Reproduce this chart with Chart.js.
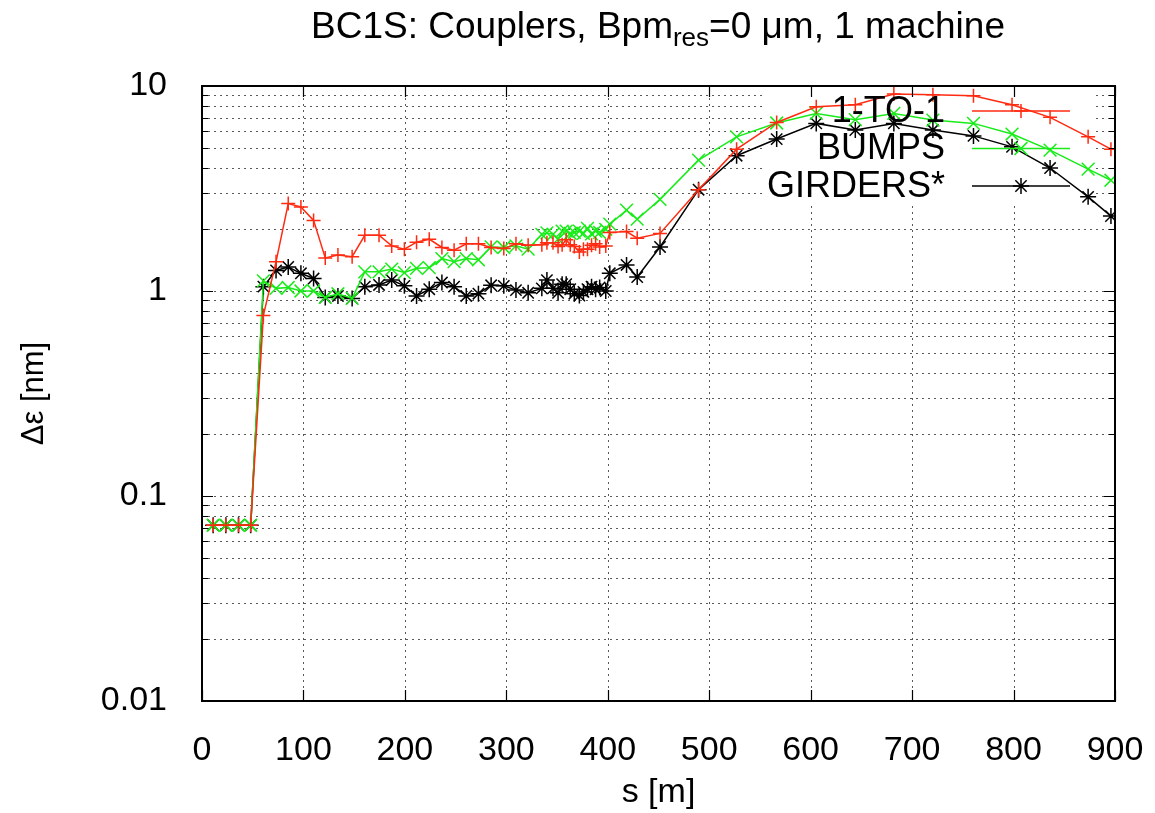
<!DOCTYPE html>
<html>
<head>
<meta charset="utf-8">
<script src="https://cdn.jsdelivr.net/npm/chart.js@4.4.1/dist/chart.umd.min.js"></script>
<style>
  html, body { margin: 0; padding: 0; background: #fff; }
  canvas { display: block; }
</style>
</head>
<body>
<canvas id="emitChart" width="1155" height="813"></canvas>
<script>
// position along the linac [m]
const s = [11, 23.5, 36, 48,
  60.5, 73, 85, 97.5, 110, 121.5, 134, 148, 160.5, 174.5, 187, 199.5, 211.5, 224, 236.5, 248.5,
  260.5, 272.5, 285, 297.5, 309.5, 321.5,
  335, 340, 346, 351, 355, 359, 363, 367, 372, 376, 380, 384, 388, 392, 398,
  402, 418.5, 429, 451.5, 489.5, 527, 566.5, 605.5, 644, 682, 720.5, 760.5, 798.5, 836, 873.5, 896];

// emittance growth [nm]
const oneToOne = [0.072, 0.072, 0.072, 0.072,
  0.76, 1.39, 2.67, 2.57, 2.21, 1.45, 1.50, 1.47, 1.87, 1.87, 1.66, 1.60, 1.73, 1.79, 1.63, 1.58,
  1.70, 1.70, 1.63, 1.61, 1.70, 1.67,
  1.68, 1.72, 1.72, 1.65, 1.68, 1.78, 1.68, 1.65, 1.55, 1.60, 1.60, 1.67, 1.70, 1.64, 1.66,
  1.93, 1.95, 1.81, 1.91, 3.12, 4.92, 6.64, 7.92, 8.1, 9.14, 9.07, 8.96, 8.1, 7.03, 5.65, 4.92];

const bumps = [0.072, 0.072, 0.072, 0.072,
  1.12, 1.03, 1.04, 1.0, 1.0, 0.93, 0.97, 0.92, 1.24, 1.24, 1.28, 1.23, 1.29, 1.30, 1.44, 1.39,
  1.44, 1.42, 1.64, 1.63, 1.66, 1.60,
  1.89, 1.92, 1.89, 1.79, 1.96, 1.96, 1.91, 1.93, 1.96, 1.91, 2.02, 1.90, 1.96, 1.93, 2.0,
  2.12, 2.48, 2.24, 2.8, 4.35, 5.65, 6.6, 7.35, 6.85, 7.35, 6.82, 6.57, 5.83, 4.87, 3.93, 3.47];

const girders = [0.072, 0.072, 0.072, 0.072,
  1.05, 1.26, 1.31, 1.22, 1.15, 0.93, 0.946, 0.92, 1.05, 1.07, 1.13, 1.06, 0.946, 1.02, 1.10, 1.05,
  0.946, 0.97, 1.066, 1.06, 1.01, 0.98,
  1.03, 1.13, 1.03, 0.98, 1.08, 1.08, 1.02, 0.97, 0.95, 0.99, 1.02, 1.05, 1.02, 1.04, 1.0,
  1.22, 1.34, 1.17, 1.64, 3.12, 4.57, 5.51, 6.57, 6.1, 6.57, 6.1, 5.71, 5.05, 3.98, 2.88, 2.32];

const seriesNames = ['1-TO-1', 'BUMPS', 'GIRDERS*'];

// y ticks: decades + minor 2..9
const yMajor = [0.01, 0.1, 1, 10];
const yTicks = [];
[0.01, 0.1, 1].forEach(d => { for (let k = 1; k < 10; k++) yTicks.push(+(d * k).toPrecision(3)); });
yTicks.push(10);

const FONT = "'Liberation Sans', Arial, Helvetica, sans-serif";
const KEY_BOX = { x0: 765, x1: 1093, y0: 86, y1: 205 };

const pts = vals => s.map((x, i) => ({ x: x, y: vals[i] }));

// dotted grid (hidden behind the key), frame, ticks, key and title
const gnuPlugin = {
  id: 'gnuStyle',
  beforeDatasetsDraw(chart) {
    const { ctx, chartArea: a, scales } = chart;
    ctx.save();
    ctx.beginPath();
    ctx.rect(a.left, a.top, a.right - a.left, a.bottom - a.top);
    ctx.rect(KEY_BOX.x1, KEY_BOX.y0, KEY_BOX.x0 - KEY_BOX.x1, KEY_BOX.y1 - KEY_BOX.y0);
    ctx.clip('evenodd');
    ctx.strokeStyle = 'rgba(0,0,0,0.65)';
    ctx.lineWidth = 1;
    ctx.setLineDash([2, 4]);
    scales.y.ticks.forEach(t => {
      const y = Math.round(scales.y.getPixelForValue(t.value)) + 0.5;
      if (y <= a.top + 1 || y >= a.bottom - 1) return;
      ctx.beginPath(); ctx.moveTo(a.left, y); ctx.lineTo(a.right, y); ctx.stroke();
    });
    scales.x.ticks.forEach(t => {
      const x = Math.round(scales.x.getPixelForValue(t.value)) + 0.5;
      if (x <= a.left + 1 || x >= a.right - 1) return;
      ctx.beginPath(); ctx.moveTo(x, a.top); ctx.lineTo(x, a.bottom); ctx.stroke();
    });
    ctx.restore();
  },
  afterDatasetsDraw(chart) {
    const { ctx, chartArea: a, scales } = chart;
    ctx.save();
    ctx.strokeStyle = '#000';
    ctx.lineWidth = 2;
    ctx.setLineDash([]);
    ctx.strokeRect(a.left, a.top, a.right - a.left, a.bottom - a.top);
    ctx.lineWidth = 1.2;
    scales.y.ticks.forEach(t => {
      const y = Math.round(scales.y.getPixelForValue(t.value)) + 0.5;
      const len = yMajor.includes(t.value) ? 11 : 6;
      ctx.beginPath();
      ctx.moveTo(a.left, y); ctx.lineTo(a.left + len, y);
      ctx.moveTo(a.right, y); ctx.lineTo(a.right - len, y);
      ctx.stroke();
    });
    scales.x.ticks.forEach(t => {
      const x = Math.round(scales.x.getPixelForValue(t.value)) + 0.5;
      ctx.beginPath();
      ctx.moveTo(x, a.bottom); ctx.lineTo(x, a.bottom - 11);
      ctx.moveTo(x, a.top); ctx.lineTo(x, a.top + 11);
      ctx.stroke();
    });

    // key
    ctx.font = '36px ' + FONT;
    ctx.fillStyle = '#000';
    ctx.textAlign = 'right';
    ctx.textBaseline = 'middle';
    chart.data.datasets.forEach((ds, i) => {
      const y = 111 + i * 37.5;
      ctx.fillText(ds.label, 945, y + 1);
      ctx.strokeStyle = ds.borderColor;
      ctx.lineWidth = 1.5;
      ctx.beginPath(); ctx.moveTo(972, y); ctx.lineTo(1070, y); ctx.stroke();
      Chart.helpers.drawPoint(ctx, {
        pointStyle: ds.pointStyle, radius: ds.pointRadius, rotation: 0, borderWidth: 1.5
      }, 1021, y);
    });
    ctx.restore();
  },
  afterDraw(chart) {
    const { ctx } = chart;
    ctx.save();
    ctx.fillStyle = '#000';
    ctx.textBaseline = 'alphabetic';
    ctx.textAlign = 'left';
    const big = '37px ' + FONT, small = '26px ' + FONT;
    const p1 = 'BC1S: Couplers, Bpm', sub = 'res', p2 = '=0 \u03bcm, 1 machine';
    ctx.font = big; const w1 = ctx.measureText(p1).width, w3 = ctx.measureText(p2).width;
    ctx.font = small; const w2 = ctx.measureText(sub).width;
    let x = 658 - (w1 + w2 + w3) / 2;
    const base = 38;
    ctx.font = big; ctx.fillText(p1, x, base); x += w1;
    ctx.font = small; ctx.fillText(sub, x, base + 8); x += w2;
    ctx.font = big; ctx.fillText(p2, x, base);
    ctx.restore();
  }
};

new Chart(document.getElementById('emitChart'), {
  type: 'scatter',
  data: {
    datasets: [
      { label: seriesNames[0], data: pts(oneToOne), borderColor: '#ff2a10', backgroundColor: '#ff2a10',
        showLine: true, borderWidth: 1.5, pointStyle: 'cross', pointRadius: 7, pointBorderWidth: 1.5 },
      { label: seriesNames[1], data: pts(bumps), borderColor: '#18ec18', backgroundColor: '#18ec18',
        showLine: true, borderWidth: 1.5, pointStyle: 'crossRot', pointRadius: 9, pointBorderWidth: 1.5 },
      { label: seriesNames[2], data: pts(girders), borderColor: '#000000', backgroundColor: '#000000',
        showLine: true, borderWidth: 1.5, pointStyle: 'star', pointRadius: 8, pointBorderWidth: 1.5 }
    ]
  },
  options: {
    responsive: false,
    animation: false,
    devicePixelRatio: 1,
    layout: { padding: { left: 0, right: 40, top: 86, bottom: 0 } },
    plugins: { legend: { display: false }, title: { display: false }, tooltip: { enabled: false } },
    scales: {
      x: {
        type: 'linear', min: 0, max: 900,
        afterFit: sc => { sc.height = 112; sc.paddingLeft = 0; sc.paddingRight = 0; },
        grid: { display: false }, border: { display: false },
        ticks: { stepSize: 100, color: '#000', padding: 21, maxRotation: 0,
                 font: { family: FONT, size: 34 } },
        title: { display: true, text: 's [m]', color: '#000', padding: { top: 0, bottom: 0 },
                 font: { family: FONT, size: 34 } }
      },
      y: {
        type: 'logarithmic', min: 0.01, max: 10,
        afterFit: sc => { sc.width = 202; sc.paddingTop = 0; sc.paddingBottom = 0; },
        afterBuildTicks: sc => { sc.ticks = yTicks.map(v => ({ value: v })); },
        grid: { display: false }, border: { display: false },
        ticks: { color: '#000', padding: 27, autoSkip: false,
                 font: { family: FONT, size: 34 },
                 callback: v => yMajor.includes(v) ? String(v) : '' },
        title: { display: true, text: '\u0394\u03b5 [nm]', color: '#000', padding: { top: 16, bottom: 0 },
                 font: { family: FONT, size: 31 } }
      }
    }
  },
  plugins: [gnuPlugin]
});
</script>
</body>
</html>
